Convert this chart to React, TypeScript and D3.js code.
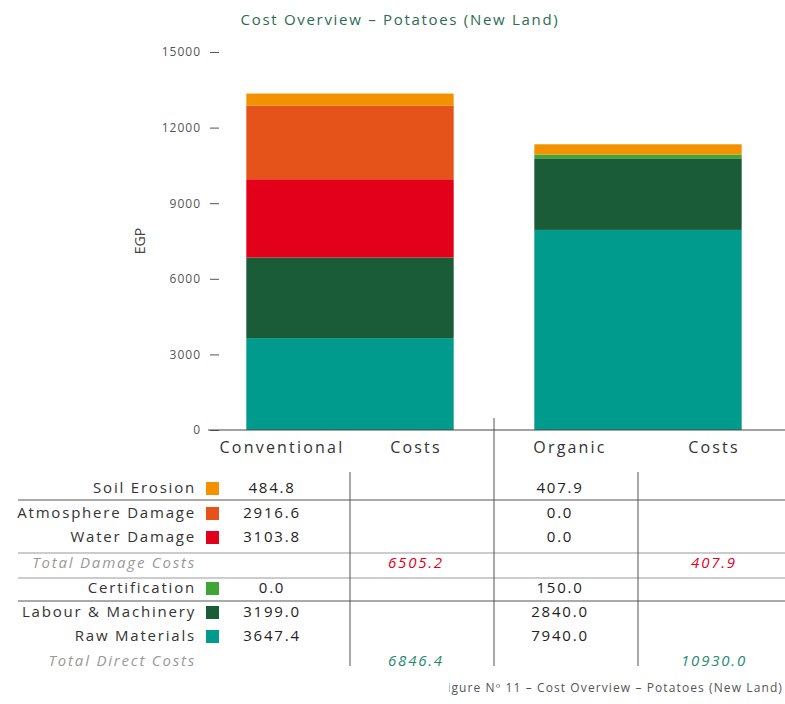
import { useEffect, useRef } from 'react';
import * as d3 from 'd3';

const categories = ['Conventional', 'Organic'];
const seriesNames = ['Soil Erosion', 'Atmosphere Damage', 'Water Damage', 'Certification', 'Labour & Machinery', 'Raw Materials'];
const seriesColors = ['#f39200', '#e5531a', '#e2001a', '#3fa535', '#1a5c38', '#009b8c'];
const conventionalValues = [484.8, 2916.6, 3103.8, 0.0, 3199.0, 3647.4];
const organicValues = [407.9, 0.0, 0.0, 150.0, 2840.0, 7940.0];
const damageIdx = [0, 1, 2];
const directIdx = [3, 4, 5];
const yTicks = [0, 3000, 6000, 9000, 12000, 15000];
const title = 'Cost Overview \u2013 Potatoes (New Land)';
const caption = 'Figure N\u00ba 11 \u2013 Cost Overview \u2013 Potatoes (New Land)';

const App = () => {
  const ref = useRef<SVGSVGElement>(null);

  useEffect(() => {
    const W = 785;
    const svg = d3.select(ref.current);
    svg.selectAll('*').remove();
    const font = "'Open Sans', sans-serif";

    const y = d3.scaleLinear().domain([0, 15000]).range([430, 52]);
    const x = d3.scaleBand().domain(categories).range([206, 782]).paddingInner(0.28).paddingOuter(0.14);
    const valuesByCat: Record<string, number[]> = { Conventional: conventionalValues, Organic: organicValues };

    // title
    svg.append('text')
      .attr('x', 400).attr('y', 25)
      .attr('text-anchor', 'middle')
      .style('font-family', font).style('font-size', '15px')
      .style('letter-spacing', '1.7px')
      .attr('fill', '#2d6b52')
      .text(title);

    // stacked bars (bottom: raw materials ... top: soil erosion)
    const order = [5, 4, 3, 2, 1, 0];
    categories.forEach(cat => {
      let acc = 0;
      order.forEach(i => {
        const v = valuesByCat[cat][i];
        if (v > 0) {
          svg.append('rect')
            .attr('x', x(cat)!)
            .attr('width', x.bandwidth())
            .attr('y', y(acc + v))
            .attr('height', y(acc) - y(acc + v))
            .attr('fill', seriesColors[i]);
        }
        acc += v;
      });
    });

    // y axis (ticks only)
    const yAxis = svg.append('g').attr('transform', 'translate(219,0)')
      .call(d3.axisLeft(y).tickValues(yTicks).tickSize(9).tickPadding(9).tickFormat(d3.format('d')));
    yAxis.select('.domain').remove();
    yAxis.selectAll('line').attr('stroke', '#555');
    yAxis.selectAll('text').style('font-family', font).style('font-size', '12px')
      .style('letter-spacing', '1px').attr('fill', '#555');

    svg.append('line')
      .attr('x1', 208).attr('x2', W).attr('y1', y(0)).attr('y2', y(0))
      .attr('stroke', '#444').attr('stroke-width', 1);

    svg.append('text')
      .attr('transform', `translate(145,${(y(0) + y(15000)) / 2}) rotate(-90)`)
      .attr('text-anchor', 'middle')
      .style('font-family', font).style('font-size', '14px')
      .attr('fill', '#444')
      .text('EGP');

    // table
    const rowY = [488, 513, 537, 563, 588, 612, 636, 661];
    const halfW = x.step() / 2;
    const valX = (cat: string) => x(cat)! + x.bandwidth() / 2 - halfW / 2 - 6;
    const costX = (cat: string) => x(cat)! + x.bandwidth() / 2 + halfW / 2 + (cat === 'Organic' ? 4 : -6);
    const txt = 'font-size:15px;letter-spacing:1.8px;font-family:' + font;
    const head = 'font-size:16px;letter-spacing:2.2px;font-family:' + font;

    // header
    categories.forEach(cat => {
      svg.append('text').attr('x', valX(cat) + 10).attr('y', 453).attr('text-anchor', 'middle')
        .attr('style', head).attr('fill', '#333').text(cat);
      svg.append('text').attr('x', costX(cat)).attr('y', 453).attr('text-anchor', 'middle')
        .attr('style', head).attr('fill', '#333').text('Costs');
    });

    // grid lines
    const hLines = [500, 553, 578, 601];
    hLines.forEach((ly, k) => {
      svg.append('line').attr('x1', 18).attr('x2', W).attr('y1', ly).attr('y2', ly)
        .attr('stroke', k === 0 || k === 3 ? '#555' : '#999').attr('stroke-width', 1);
    });
    const midX = (x(categories[0])! + x.bandwidth() + x(categories[1])!) / 2;
    svg.append('line').attr('x1', midX).attr('x2', midX).attr('y1', 418).attr('y2', 666).attr('stroke', '#555');
    categories.forEach(cat => {
      const cx = x(cat)! + x.bandwidth() / 2;
      svg.append('line').attr('x1', cx).attr('x2', cx).attr('y1', 472).attr('y2', 666).attr('stroke', '#555');
    });

    const drawRow = (i: number, ry: number) => {
      svg.append('text').attr('x', 196).attr('y', ry + 5).attr('text-anchor', 'end')
        .attr('style', txt).attr('fill', '#333').text(seriesNames[i]);
      svg.append('rect').attr('x', 206).attr('y', ry - 6).attr('width', 13).attr('height', 13)
        .attr('fill', seriesColors[i]);
      categories.forEach(cat => {
        svg.append('text').attr('x', valX(cat)).attr('y', ry + 5).attr('text-anchor', 'middle')
          .attr('style', txt).attr('fill', '#222').text(d3.format('.1f')(valuesByCat[cat][i]));
      });
    };
    const drawTotal = (label: string, idx: number[], ry: number, color: string) => {
      svg.append('text').attr('x', 196).attr('y', ry + 5).attr('text-anchor', 'end')
        .attr('style', txt).style('font-style', 'italic').attr('fill', '#999').text(label);
      categories.forEach(cat => {
        const total = d3.sum(idx, i => valuesByCat[cat][i]);
        svg.append('text').attr('x', costX(cat)).attr('y', ry + 5).attr('text-anchor', 'middle')
          .attr('style', txt).style('font-style', 'italic').attr('fill', color).text(d3.format('.1f')(total));
      });
    };

    damageIdx.forEach((i, k) => drawRow(i, rowY[k]));
    drawTotal('Total Damage Costs', damageIdx, rowY[3], '#e2001a');
    directIdx.forEach((i, k) => drawRow(i, rowY[4 + k]));
    drawTotal('Total Direct Costs', directIdx, rowY[7], '#1f8a6e');

    // caption (left part cut off as in the source)
    svg.append('clipPath').attr('id', 'capclip').append('rect')
      .attr('x', 449).attr('y', 670).attr('width', 340).attr('height', 34);
    svg.append('text').attr('x', 783).attr('y', 692).attr('text-anchor', 'end')
      .attr('clip-path', 'url(#capclip)')
      .style('font-family', font).style('font-size', '12px').style('letter-spacing', '1.1px')
      .attr('fill', '#555')
      .text(caption);
  }, []);

  return (
    <svg ref={ref} width={785} height={704}
      style={{ position: 'absolute', left: 0, top: 0, background: '#fff' }} />
  );
};

export default App;
